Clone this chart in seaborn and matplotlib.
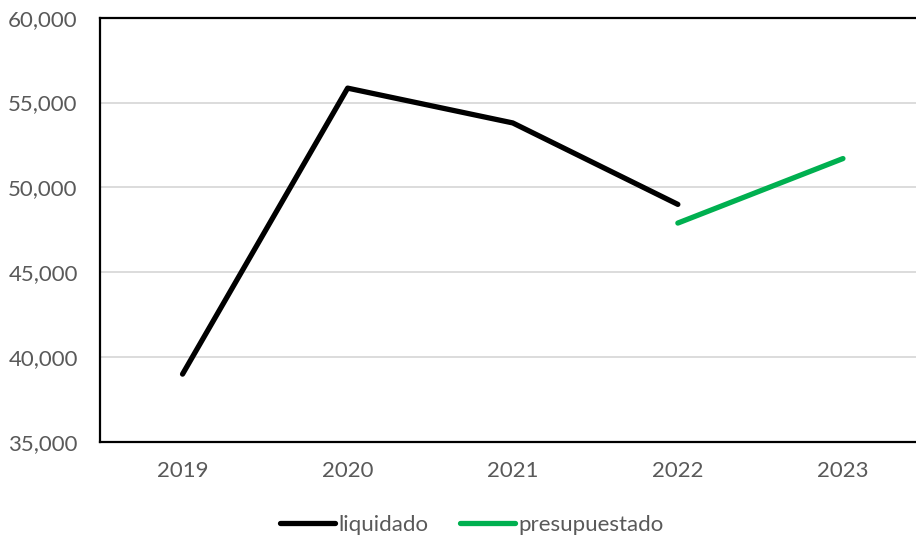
import matplotlib

matplotlib.use("Agg")
import matplotlib.pyplot as plt
import pandas as pd
import seaborn as sns
from matplotlib.ticker import FuncFormatter, MultipleLocator

YEARS = ["2019", "2020", "2021", "2022", "2023"]
LIQUIDADO_YEARS = ["2019", "2020", "2021", "2022"]
LIQUIDADO = [39000, 55850, 53800, 49000]
PRESUPUESTADO_YEARS = ["2022", "2023"]
PRESUPUESTADO = [47900, 51700]

COLORS = {"liquidado": "#000000", "presupuestado": "#00B050"}
TEXT_COLOR = "#595959"


def build_frame() -> pd.DataFrame:
    a = pd.DataFrame({"year": LIQUIDADO_YEARS, "value": LIQUIDADO, "serie": "liquidado"})
    b = pd.DataFrame({"year": PRESUPUESTADO_YEARS, "value": PRESUPUESTADO, "serie": "presupuestado"})
    df = pd.concat([a, b], ignore_index=True)
    df["year"] = pd.Categorical(df["year"], categories=YEARS, ordered=True)
    return df


def main() -> None:
    sns.set_theme(style="white")
    plt.rcParams["font.family"] = ["Lato", "DejaVu Sans"]

    df = build_frame()
    fig = plt.figure(figsize=(9.16, 5.41), dpi=100)
    ax = fig.add_axes([100 / 916, 1 - 442 / 541, 825.5 / 916, (442 - 17.7) / 541])

    sns.lineplot(
        data=df,
        x="year",
        y="value",
        hue="serie",
        palette=COLORS,
        linewidth=3.8,
        solid_capstyle="round",
        ax=ax,
        legend=False,
    )

    ax.set_xlim(-0.5, 4.5)
    ax.set_ylim(35000, 60000)
    ax.yaxis.set_major_locator(MultipleLocator(5000))
    ax.yaxis.set_major_formatter(FuncFormatter(lambda v, _: f"{v:,.0f}"))
    ax.grid(axis="y", color="#D9D9D9", linewidth=1.3)
    ax.set_axisbelow(True)
    ax.set_xlabel("")
    ax.set_ylabel("")

    for side in ["left", "bottom", "top"]:
        ax.spines[side].set_color("black")
        ax.spines[side].set_linewidth(1.6)
    ax.spines["right"].set_visible(False)

    ax.tick_params(axis="both", length=0, labelsize=16, labelcolor=TEXT_COLOR)
    ax.tick_params(axis="y", pad=16)
    ax.tick_params(axis="x", pad=14)

    handles = [
        plt.Line2D([], [], color=COLORS[s], linewidth=3.8, solid_capstyle="round")
        for s in ["liquidado", "presupuestado"]
    ]
    leg = fig.legend(
        handles,
        ["liquidado", "presupuestado"],
        loc="center",
        bbox_to_anchor=(472 / 916, 1 - 525 / 541),
        ncol=2,
        frameon=False,
        fontsize=16,
        handlelength=2.5,
        handletextpad=0.15,
        columnspacing=1.4,
    )
    for t in leg.get_texts():
        t.set_color(TEXT_COLOR)

    fig.savefig("out.png", dpi=100)
    plt.close(fig)


if __name__ == "__main__":
    main()
